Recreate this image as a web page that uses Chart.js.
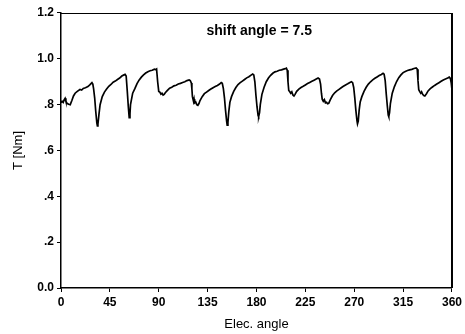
<!DOCTYPE html>
<html>
<head>
<meta charset="utf-8">
<script src="https://cdn.jsdelivr.net/npm/chart.js@4"></script>
<style>
  html, body { margin: 0; padding: 0; background: #fff; }
  #wrap { width: 465px; height: 334px; }
</style>
</head>
<body>
<div id="wrap"><canvas id="chart" width="465" height="334"></canvas></div>
<script>
// torque vs electrical angle
var angles = [
    0, 1, 2, 3, 3.8, 4.5, 5.5, 7, 8.5, 10, 11.5, 13, 15, 17.5, 19, 20.5, 22.5, 24.8, 26.5, 28.5,
    29.3, 30, 31, 32, 33, 33.5, 34, 35, 36, 38, 40, 42, 44, 46, 48, 50, 52, 54, 56, 58, 59,
    60, 61, 62, 62.8, 63.5, 64, 66, 68, 70, 72, 74, 76, 78, 80, 82, 84, 86, 87, 88,
    89, 90, 91, 92, 93, 94, 95, 96, 98, 100, 102, 104, 106, 108, 110, 112, 114, 116, 118, 119,
    120, 120.5, 121, 122, 122.5, 123, 124, 125, 126, 127, 128, 130, 132, 134, 136, 138, 140, 142, 144, 146,
    147.5, 148.5, 149.5, 150.5, 151.5, 152.5, 153, 153.7, 154.5, 155.5, 157, 159, 161, 163, 165, 167, 169, 171, 173, 175,
    176.5, 177.5, 178.5, 179.5, 180.5, 181.5, 182, 182.8, 183.5, 185, 187, 189, 191, 193, 195, 197, 199, 201, 203, 205,
    206.5, 207.5, 208.3, 209, 209.7, 210.5, 211.5, 212.5, 213.5, 214.5, 215.5, 217, 219, 221, 223, 225, 227, 229, 231, 233,
    235, 236.7, 238, 239, 239.8, 240.5, 241.5, 242.5, 243.5, 244.5, 245.5, 246.5, 248, 250, 252, 254, 256, 258, 260, 262,
    264, 266, 267.4, 268.5, 269.5, 270.5, 271.5, 272.5, 273, 273.7, 274.5, 275.5, 277, 279, 281, 283, 285, 287, 289, 291,
    293, 295, 296.5, 297.5, 298.5, 299.5, 300.5, 301.3, 301.8, 302.5, 303.3, 305, 307, 309, 311, 313, 315, 317, 319, 321,
    323, 325, 327, 328, 328.7, 329.4, 330.3, 331.2, 332, 333, 334, 335, 336.5, 338, 340, 342, 344, 346, 348, 350,
    352, 354, 356, 357.5, 358.5, 359.3, 360
];
var torque = [
    0.808, 0.815, 0.810, 0.822, 0.828, 0.815, 0.806, 0.802, 0.800, 0.818, 0.838, 0.850, 0.858, 0.866, 0.864, 0.871, 0.874, 0.879, 0.886, 0.896,
    0.890, 0.870, 0.830, 0.770, 0.720, 0.707, 0.715, 0.760, 0.800, 0.835, 0.855, 0.868, 0.880, 0.888, 0.898, 0.903, 0.910, 0.916, 0.925, 0.930, 0.932,
    0.925, 0.860, 0.790, 0.743, 0.760, 0.800, 0.850, 0.870, 0.892, 0.908, 0.920, 0.930, 0.938, 0.944, 0.948, 0.950, 0.955, 0.953, 0.956,
    0.900, 0.858, 0.855, 0.846, 0.850, 0.842, 0.845, 0.852, 0.862, 0.872, 0.876, 0.882, 0.885, 0.890, 0.893, 0.897, 0.900, 0.905, 0.908, 0.905,
    0.895, 0.870, 0.835, 0.815, 0.825, 0.808, 0.812, 0.800, 0.797, 0.805, 0.818, 0.835, 0.848, 0.855, 0.862, 0.868, 0.874, 0.879, 0.884, 0.890,
    0.896, 0.893, 0.870, 0.830, 0.775, 0.728, 0.711, 0.722, 0.770, 0.810, 0.835, 0.858, 0.875, 0.888, 0.896, 0.903, 0.910, 0.917, 0.922, 0.929,
    0.934, 0.930, 0.900, 0.840, 0.790, 0.752, 0.748, 0.765, 0.800, 0.845, 0.876, 0.900, 0.916, 0.928, 0.937, 0.943, 0.946, 0.950, 0.952, 0.955,
    0.957, 0.959, 0.950, 0.900, 0.862, 0.857, 0.850, 0.856, 0.842, 0.838, 0.845, 0.858, 0.868, 0.875, 0.880, 0.886, 0.892, 0.897, 0.902, 0.907,
    0.912, 0.916, 0.912, 0.890, 0.850, 0.824, 0.815, 0.822, 0.808, 0.810, 0.804, 0.806, 0.822, 0.840, 0.852, 0.860, 0.867, 0.874, 0.880, 0.886,
    0.891, 0.897, 0.900, 0.896, 0.875, 0.830, 0.775, 0.730, 0.716, 0.728, 0.775, 0.812, 0.835, 0.858, 0.876, 0.890, 0.900, 0.908, 0.915, 0.921,
    0.927, 0.932, 0.937, 0.933, 0.905, 0.845, 0.792, 0.755, 0.748, 0.765, 0.805, 0.850, 0.879, 0.901, 0.918, 0.930, 0.940, 0.945, 0.949, 0.952,
    0.954, 0.958, 0.960, 0.955, 0.905, 0.865, 0.857, 0.850, 0.856, 0.845, 0.840, 0.838, 0.848, 0.860, 0.870, 0.877, 0.884, 0.890, 0.896, 0.902,
    0.908, 0.912, 0.916, 0.920, 0.915, 0.895, 0.864
];
var xTicks = [0, 45, 90, 135, 180, 225, 270, 315, 360];
var yTickLabels = ["0.0", ".2", ".4", ".6", ".8", "1.0", "1.2"];
var noteText = "shift angle = 7.5";

var points = [];
for (var i = 0; i < angles.length; i++) {
    points.push({x: angles[i], y: torque[i]});
}

// frame round the plot + the note inside it
var framePlugin = {
    id: "frame",
    afterDraw: function(chart) {
        var ctx = chart.ctx;
        var a = chart.chartArea;
        ctx.save();
        ctx.strokeStyle = "#000";
        ctx.lineWidth = 1;
        ctx.beginPath();
        ctx.moveTo(a.left, a.top + 0.5);
        ctx.lineTo(a.right, a.top + 0.5);
        ctx.stroke();
        ctx.lineWidth = 2;
        ctx.beginPath();
        ctx.moveTo(a.right, a.top);
        ctx.lineTo(a.right, a.bottom);
        ctx.stroke();
        ctx.fillStyle = "#000";
        ctx.font = "bold 14px 'Liberation Sans', Arial, sans-serif";
        ctx.textAlign = "center";
        ctx.textBaseline = "middle";
        ctx.fillText(noteText, chart.scales.x.getPixelForValue(182.5), chart.scales.y.getPixelForValue(1.12));
        ctx.restore();
    }
};

var tickFont = {family: "'Liberation Sans', Arial, sans-serif", size: 12, weight: "bold"};
var titleFont = {family: "'Liberation Sans', Arial, sans-serif", size: 13};

new Chart(document.getElementById("chart"), {
    type: "line",
    data: {
        datasets: [{
            data: points,
            borderColor: "#000",
            borderWidth: 1.7,
            pointRadius: 0,
            tension: 0,
            fill: false
        }]
    },
    options: {
        responsive: false,
        animation: false,
        events: [],
        layout: {padding: {top: 13, right: 12, left: 0, bottom: 0}},
        plugins: {legend: {display: false}, tooltip: {enabled: false}},
        scales: {
            x: {
                type: "linear",
                min: 0,
                max: 360,
                afterBuildTicks: function(s) {
                    s.ticks = xTicks.map(function(v) { return {value: v}; });
                },
                afterFit: function(s) { s.height = 46; },
                grid: {display: true, drawOnChartArea: false, drawTicks: true, tickLength: 4, color: "#000"},
                border: {display: true, color: "#000", width: 1.5},
                ticks: {color: "#000", font: tickFont, padding: 3, maxRotation: 0, autoSkip: false},
                title: {display: true, text: "Elec. angle", color: "#000", font: titleFont, padding: {top: 0, bottom: 2}}
            },
            y: {
                min: 0,
                max: 1.2,
                afterBuildTicks: function(s) {
                    s.ticks = yTickLabels.map(function(t, k) { return {value: k * 0.2}; });
                },
                afterFit: function(s) { s.width = 61; },
                grid: {display: true, drawOnChartArea: false, drawTicks: true, tickLength: 4, color: "#000"},
                border: {display: true, color: "#000", width: 1.5},
                ticks: {
                    color: "#000",
                    font: tickFont,
                    padding: 3,
                    callback: function(v, idx) { return yTickLabels[idx]; }
                },
                title: {display: true, text: "T [Nm]", color: "#000", font: titleFont, padding: {top: 11, bottom: 0}}
            }
        }
    },
    plugins: [framePlugin]
});
</script>
</body>
</html>
